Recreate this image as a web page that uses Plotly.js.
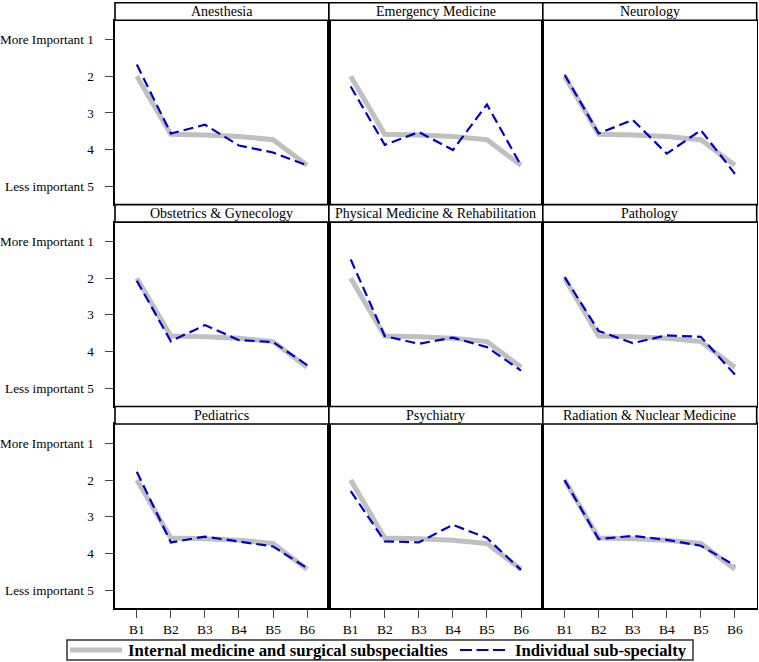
<!DOCTYPE html>
<html><head><meta charset="utf-8">
<script src="https://cdn.plot.ly/plotly-3.0.1.min.js"></script>
<style>body{margin:0;background:#fff}#c{width:759px;height:662px}</style>
</head><body><div id="c"></div>
<script>
const categories = ["B1", "B2", "B3", "B4", "B5", "B6"];
const panelTitles = ["Anesthesia", "Emergency Medicine", "Neurology",
  "Obstetrics & Gynecology", "Physical Medicine & Rehabilitation", "Pathology",
  "Pediatrics", "Psychiatry", "Radiation & Nuclear Medicine"];
const yTickVals = [1, 2, 3, 4, 5];
const yTickText = ["More Important 1", "2", "3", "4", "Less important 5"];
const seriesNames = ["Internal medicine and surgical subspecialties", "Individual sub-specialty"];

const overall = [2.0, 3.58, 3.6, 3.64, 3.73, 4.43];

const anesthesia = [1.68, 3.56, 3.32, 3.89, 4.08, 4.43];
const emergency  = [2.28, 3.87, 3.52, 4.01, 2.77, 4.43];
const neurology  = [1.96, 3.56, 3.19, 4.11, 3.47, 4.66];
const obgyn      = [2.07, 3.72, 3.28, 3.69, 3.74, 4.37];
const pmr        = [1.49, 3.58, 3.79, 3.62, 3.88, 4.52];
const pathology  = [1.97, 3.44, 3.77, 3.56, 3.60, 4.63];
const pediatrics = [1.77, 3.70, 3.54, 3.67, 3.81, 4.40];
const psychiatry = [2.30, 3.67, 3.70, 3.22, 3.58, 4.45];
const radiation  = [2.00, 3.61, 3.52, 3.63, 3.79, 4.33];
const individual = [anesthesia, emergency, neurology, obgyn, pmr, pathology, pediatrics, psychiatry, radiation];

const W = 759, H = 662;
const colEdges = [115, 328.9, 542.8, 756.7];
const rowTop0 = 2.7, rowH = 201.9, headerH = 17.5;
const FONT = "Liberation Serif";
const GRAY = "#c0c0c0", BLUE = "#0000cc";

const traces = [];
const layout = {
  width: W, height: H,
  margin: {l: 0, r: 0, t: 0, b: 0},
  paper_bgcolor: "#fff", plot_bgcolor: "#fff",
  font: {family: FONT, color: "#000", size: 13},
  showlegend: false,
  shapes: [], annotations: []
};

for (let i = 0; i < 9; i++) {
  const r = Math.floor(i / 3), c = i % 3;
  const sfx = i === 0 ? "" : String(i + 1);
  const top = rowTop0 + r * rowH;
  const plotTop = top + headerH;
  const plotBot = top + rowH;
  layout["xaxis" + sfx] = {
    domain: [colEdges[c] / W, colEdges[c + 1] / W],
    anchor: "y" + sfx, type: "category",
    range: [-0.64, 5.64],
    showgrid: false, zeroline: false,
    showline: true, mirror: true, linecolor: "#000", linewidth: 1.6,
    ticks: r === 2 ? "outside" : "", ticklen: 8, tickcolor: "#444", tickwidth: 1,
    showticklabels: r === 2,
    tickfont: {family: FONT, size: 13.5, color: "#000"}
  };
  layout["yaxis" + sfx] = {
    domain: [1 - plotBot / H, 1 - plotTop / H],
    anchor: "x" + sfx,
    range: [5.5, 0.47],
    showgrid: false, zeroline: false,
    showline: true, mirror: true, linecolor: "#000", linewidth: 1.6,
    tickmode: "array", tickvals: yTickVals, ticktext: yTickText,
    ticks: c === 0 ? "outside" : "", ticklen: 8, tickcolor: "#444", tickwidth: 1,
    showticklabels: c === 0, ticklabelstandoff: 9,
    tickfont: {family: FONT, size: 13.2, color: "#000"}
  };
  traces.push({
    x: categories, y: overall, xaxis: "x" + sfx, yaxis: "y" + sfx,
    type: "scatter", mode: "lines", name: seriesNames[0],
    line: {color: GRAY, width: 5}, hoverinfo: "skip"
  });
  traces.push({
    x: categories, y: individual[i], xaxis: "x" + sfx, yaxis: "y" + sfx,
    type: "scatter", mode: "lines", name: seriesNames[1],
    line: {color: BLUE, width: 2.2, dash: "10px,5px"}, hoverinfo: "skip"
  });
  layout.shapes.push({
    type: "rect", xref: "paper", yref: "paper",
    x0: colEdges[c] / W, x1: colEdges[c + 1] / W,
    y0: 1 - (top + headerH) / H, y1: 1 - top / H,
    line: {color: "#000", width: 1.6}, fillcolor: "#fff", layer: "above"
  });
  layout.annotations.push({
    xref: "paper", yref: "paper",
    x: (colEdges[c] + colEdges[c + 1]) / 2 / W,
    y: 1 - (top + headerH / 2) / H,
    text: panelTitles[i], showarrow: false,
    xanchor: "center", yanchor: "middle",
    font: {family: FONT, size: 14, color: "#000"}
  });
}

// legend box (drawn as layout decoration)
const px = v => v / W, py = v => 1 - v / H;
layout.shapes.push(
  {type: "rect", xref: "paper", yref: "paper", x0: px(67), x1: px(693), y0: py(660), y1: py(640),
   line: {color: "#333", width: 1.5}, fillcolor: "#fff"},
  {type: "line", xref: "paper", yref: "paper", x0: px(70), x1: px(122), y0: py(650), y1: py(650),
   line: {color: GRAY, width: 5}},
  {type: "line", xref: "paper", yref: "paper", x0: px(460), x1: px(505), y0: py(650), y1: py(650),
   line: {color: BLUE, width: 2.2, dash: "12px,4.5px"}}
);
layout.annotations.push(
  {xref: "paper", yref: "paper", x: px(126), y: py(650.5), xanchor: "left", yanchor: "middle",
   text: "<b>" + seriesNames[0] + "</b>", showarrow: false,
   font: {family: FONT, size: 16.7, color: "#000"}},
  {xref: "paper", yref: "paper", x: px(513), y: py(650.5), xanchor: "left", yanchor: "middle",
   text: "<b>" + seriesNames[1] + "</b>", showarrow: false,
   font: {family: FONT, size: 16.7, color: "#000"}}
);

Plotly.newPlot("c", traces, layout, {displayModeBar: false, staticPlot: true});
</script>
</body></html>
